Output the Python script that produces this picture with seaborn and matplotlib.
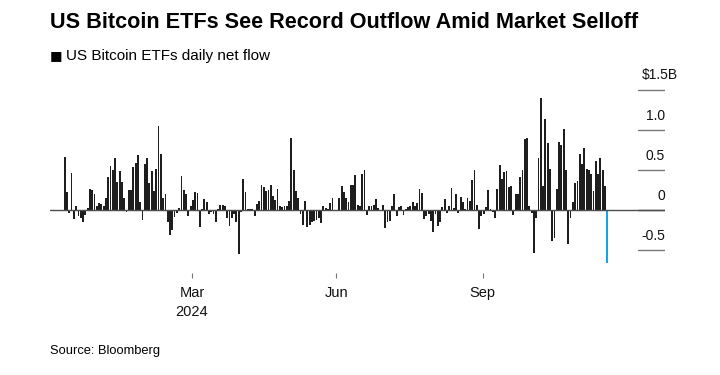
import numpy as np
import pandas as pd
import matplotlib
matplotlib.use("Agg")
import matplotlib.pyplot as plt
import matplotlib.transforms as mtransforms
from matplotlib import font_manager
import seaborn as sns

# ---------------- data ----------------
title = "US Bitcoin ETFs See Record Outflow Amid Market Selloff"
legend_label = "US Bitcoin ETFs daily net flow"
source = "Source: Bloomberg"

start_date = "2024-01-11"
end_date = "2024-12-19"
holidays = ["2024-01-15", "2024-02-19", "2024-03-29", "2024-05-27", "2024-06-19",
            "2024-07-04", "2024-09-02", "2024-11-28"]

# daily net flow, $ billions (one value per trading day)
flows = [
    0.66, 0.22, -0.04, 0.46, -0.12, 0.05, -0.08, -0.10, -0.15, -0.07,
    0.02, 0.26, 0.25, 0.20, 0.04, 0.08, 0.07, 0.04, 0.15, 0.41,
    0.55, 0.50, 0.64, 0.35, 0.48, 0.34, 0.14, -0.03, 0.25, 0.24,
    0.53, 0.58, 0.68, 0.10, -0.13, 0.57, 0.65, 0.33, 0.48, 0.23,
    0.51, 1.05, 0.69, 0.14, 0.20, -0.15, -0.32, -0.26, -0.09, -0.04,
    0.02, 0.42, 0.25, 0.19, -0.08, 0.04, 0.12, 0.22, 0.21, -0.22,
    0.01, 0.13, 0.10, -0.05, -0.03, -0.05, -0.16, 0.01, 0.06, 0.06,
    0.04, -0.11, -0.21, -0.11, -0.05, -0.15, -0.56, -0.03, 0.38, 0.22,
    0.01, 0.01, 0.01, -0.08, 0.07, 0.11, 0.31, 0.28, 0.23, 0.25,
    0.31, 0.17, 0.12, 0.26, 0.05, 0.03, 0.05, 0.05, 0.11, 0.90,
    0.49, 0.23, 0.14, -0.06, -0.19, 0.11, -0.22, -0.19, -0.16, -0.14,
    -0.13, -0.10, -0.17, 0.04, 0.02, 0.01, 0.08, 0.14, -0.01, -0.02,
    0.15, 0.30, 0.22, 0.15, 0.09, 0.31, 0.31, 0.43, 0.06, 0.04,
    0.44, 0.49, -0.07, 0.05, 0.04, 0.06, 0.13, 0.02, -0.02, 0.06,
    -0.23, -0.16, -0.14, 0.05, 0.20, -0.08, 0.03, 0.04, -0.07, 0.01,
    0.03, 0.05, 0.09, 0.04, 0.08, 0.26, 0.21, -0.12, -0.08, -0.06,
    -0.14, -0.28, -0.05, -0.21, -0.16, 0.03, 0.13, -0.04, 0.04, 0.27,
    0.02, 0.19, -0.04, 0.16, 0.10, 0.01, 0.14, 0.11, 0.37, 0.50,
    0.06, -0.24, -0.08, -0.05, 0.03, 0.24, 0.01, -0.03, -0.11, 0.26,
    0.56, 0.38, 0.47, 0.48, 0.28, 0.30, -0.07, 0.20, 0.19, 0.41,
    0.49, 0.88, 0.90, 0.04, -0.04, -0.54, -0.11, 0.64, 1.39, 0.30,
    1.13, 0.83, 0.51, -0.39, -0.36, 0.26, 0.84, 0.81, 1.01, 0.49,
    -0.43, -0.11, 0.10, 0.33, 0.36, 0.69, 0.57, 0.77, 0.51, 0.49,
    0.44, 0.23, 0.61, 0.44, 0.65, 0.50, 0.29, -0.67,
]

y_ticks = [1.5, 1.0, 0.5, 0, -0.5]
y_tick_labels = ["$1.5B", "1.0", "0.5", "0", "-0.5"]
x_tick_labels = ["Mar\n2024", "Jun", "Sep"]
x_tick_pos = [55.6, 118.6, 182.6]   # positions on the trading-day axis

# ---------------- frame ----------------
dates = pd.bdate_range(start_date, end_date, freq="C", holidays=holidays)
n = min(len(dates), len(flows))
df = pd.DataFrame({
    "day": np.arange(n),
    "date": dates[:n],
    "flow": flows[:n],
})
df["latest"] = np.where(df["day"] == n - 1, "latest", "other")

# ---------------- style ----------------
sns.set_style("white")
plt.rcParams["font.family"] = ["Liberation Sans", "DejaVu Sans"]

installed = {f.name for f in font_manager.fontManager.ttflist}
if "Liberation Sans Narrow" in installed:
    title_family = ["Liberation Sans Narrow", "Liberation Sans"]
    title_size = 18.5
else:
    title_family = ["Liberation Sans", "DejaVu Sans"]
    title_size = 15.6

W, H = 720, 375
fig = plt.figure(figsize=(W / 100, H / 100), dpi=100)

# axes in pixel terms
ax_left, ax_right = 50, 665
ax_top, ax_bottom = 81.5, 273
ax = fig.add_axes([ax_left / W, 1 - ax_bottom / H,
                   (ax_right - ax_left) / W, (ax_bottom - ax_top) / H])

sns.barplot(data=df, x="day", y="flow", hue="latest",
            palette={"other": "#1e1e1e", "latest": "#1aa3ea"},
            native_scale=True, width=0.8, dodge=False, legend=False,
            errorbar=None, saturation=1, linewidth=0, ax=ax)

# x scale: first bar at 64.7px, 2.289px per trading day
px_per_day = 2.289
ax.set_xlim((ax_left - 64.7) / px_per_day, (ax_right - 64.7) / px_per_day)
zero_px = 209.5
px_per_b = 80.0
ax.set_ylim(-(ax_bottom - zero_px) / px_per_b, (zero_px - ax_top) / px_per_b)

for s in ax.spines.values():
    s.set_visible(False)

# zero line across the full width
ax.axhline(0, color="#4d4d4d", lw=1.0, zorder=1)
# short grid stubs under the right-hand labels
stub_start = (638 - ax_left) / (ax_right - ax_left)
for v in y_ticks:
    col = "#4d4d4d" if v == 0 else "#7a7a7a"
    ax.axhline(v, xmin=stub_start, xmax=1.0, color=col, lw=1.0)

ax.set_yticks([])
trans = mtransforms.blended_transform_factory(ax.transAxes, ax.transData)
offset = mtransforms.ScaledTranslation(0, 14 / 100, fig.dpi_scale_trans)
for v, lab in zip(y_ticks, y_tick_labels):
    xr = 1.0 + 13 / (ax_right - ax_left) if lab.startswith("$") else 1.0
    ax.text(xr, v, lab, transform=trans + offset, ha="right", va="center",
            fontsize=10, color="#111111")

ax.set_xticks(x_tick_pos)
ax.set_xticklabels(x_tick_labels, fontsize=10.5, color="#111111", linespacing=1.45)
ax.tick_params(axis="x", length=3.5, width=0.8, color="#777777", pad=6,
               direction="out", bottom=True)
ax.set_xlabel("")
ax.set_ylabel("")

# ---------------- titles ----------------
fig.text(50 / W, 1 - 22 / H, title, fontsize=title_size, fontweight="bold",
         ha="left", va="center", color="#000000", family=title_family)
fig.text(50 / W, 1 - 56 / H, "\u25A0", fontsize=9.5, ha="left", va="center",
         color="#000000", family=["DejaVu Sans"])
fig.text(66 / W, 1 - 56 / H, legend_label, fontsize=11, ha="left", va="center",
         color="#000000")
fig.text(50 / W, 1 - 351 / H, source, fontsize=9.3, ha="left", va="center",
         color="#000000")

fig.savefig("out.png", dpi=100, facecolor="white")
